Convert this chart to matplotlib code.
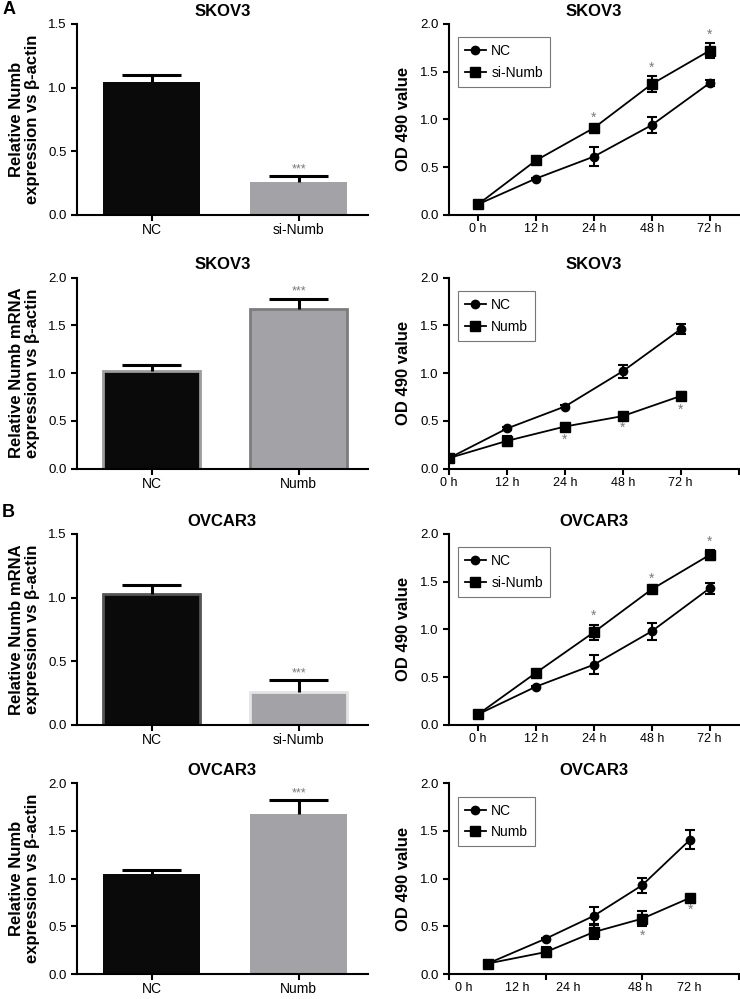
import matplotlib
matplotlib.use('Agg')
import matplotlib.pyplot as plt

plt.rcParams['font.family'] = ['Liberation Sans', 'DejaVu Sans']

# ---- bar chart data (relative Numb expression) ----
kd_groups = ['NC', 'si-Numb']
oe_groups = ['NC', 'Numb']

skov_kd_bar = [1.045, 0.257]
skov_kd_err = [0.052, 0.045]
skov_oe_bar = [1.02, 1.67]
skov_oe_err = [0.068, 0.11]
ovcar_kd_bar = [1.03, 0.26]
ovcar_kd_err = [0.065, 0.09]
ovcar_oe_bar = [1.045, 1.68]
ovcar_oe_err = [0.05, 0.14]

# ---- line chart data (OD 490) ----
time_labels = ['0 h', '12 h', '24 h', '48 h', '72 h']

skov_kd_nc = [0.11, 0.38, 0.61, 0.94, 1.38]
skov_kd_nc_err = [0.01, 0.01, 0.10, 0.08, 0.03]
skov_kd_si = [0.11, 0.57, 0.91, 1.37, 1.72]
skov_kd_si_err = [0.01, 0.03, 0.02, 0.08, 0.08]
skov_kd_sig = [2, 3, 4]

skov_oe_nc = [0.11, 0.42, 0.65, 1.02, 1.46]
skov_oe_nc_err = [0.01, 0.02, 0.02, 0.07, 0.05]
skov_oe_numb = [0.11, 0.29, 0.44, 0.55, 0.76]
skov_oe_numb_err = [0.01, 0.05, 0.04, 0.02, 0.04]
skov_oe_sig = [2, 3, 4]

ovcar_kd_nc = [0.11, 0.40, 0.63, 0.98, 1.43]
ovcar_kd_nc_err = [0.01, 0.01, 0.10, 0.09, 0.06]
ovcar_kd_si = [0.11, 0.545, 0.97, 1.42, 1.78]
ovcar_kd_si_err = [0.01, 0.02, 0.08, 0.02, 0.05]
ovcar_kd_sig = [2, 3, 4]

ovcar_oe_nc = [0.11, 0.37, 0.61, 0.93, 1.41]
ovcar_oe_nc_err = [0.01, 0.01, 0.09, 0.08, 0.10]
ovcar_oe_numb = [0.11, 0.23, 0.44, 0.58, 0.80]
ovcar_oe_numb_err = [0.01, 0.05, 0.07, 0.08, 0.02]
ovcar_oe_sig = [3, 4]

BLACK = '#0a0a0a'
GREY = '#a3a3a7'
STAR = '#7a7a7a'
YLAB = 'Relative Numb\nexpression vs β-actin'
YLAB_MRNA = 'Relative Numb mRNA\nexpression vs β-actin'
OD = 'OD 490 value'

fig = plt.figure(figsize=(7.4, 9.99), dpi=100)

rows_bottom = [0.785, 0.531, 0.2745, 0.025]
h = 0.191


def style_axes(ax):
    for s in ['top', 'right']:
        ax.spines[s].set_visible(False)
    for s in ['left', 'bottom']:
        ax.spines[s].set_linewidth(1.5)
    ax.tick_params(direction='out', length=4, width=1.5, labelsize=9.5)
    ax.xaxis.remove_overlapping_locs = False


def bar_panel(ax, groups, vals, errs, ymax, ylab, title, edges):
    style_axes(ax)
    x = list(range(len(groups)))
    colors = [BLACK, GREY]
    for i in x:
        ec, lw = edges[i]
        ax.bar(i, vals[i], width=0.66, color=colors[i], edgecolor=ec, linewidth=lw, zorder=2)
        top = vals[i] + errs[i]
        ax.vlines(i, vals[i], top, color='black', lw=2.2, zorder=3)
        ax.hlines(top, i - 0.2, i + 0.2, color='black', lw=2.2, zorder=3)
    top = vals[1] + errs[1]
    ax.text(1, top + ymax * 0.005, '***', ha='center', va='bottom', color=STAR, fontsize=9)
    ax.set_xlim(-0.51, 1.47)
    ax.set_ylim(0, ymax)
    ax.set_yticks([v * 0.5 for v in range(int(ymax / 0.5) + 1)])
    ax.yaxis.set_major_formatter(matplotlib.ticker.FormatStrFormatter('%.1f'))
    ax.set_xticks(x)
    ax.set_xticklabels(groups, fontsize=10)
    ax.tick_params(axis='x', pad=2)
    ax.set_ylabel(ylab, fontsize=12, fontweight='bold', labelpad=6, linespacing=1.1)
    ax.set_title(title, fontsize=12, fontweight='bold', pad=6)


def line_panel(ax, pos, nc, nc_err, tr, tr_err, tr_label, sig, above, title,
               xlim, ticks, label_pos):
    style_axes(ax)
    ax.errorbar(pos, nc, yerr=nc_err, fmt='none', ecolor='black', elinewidth=1.5,
                capsize=3.5, capthick=1.5, zorder=3)
    ax.errorbar(pos, tr, yerr=tr_err, fmt='none', ecolor='black', elinewidth=1.5,
                capsize=3.5, capthick=1.5, zorder=3)
    ax.plot(pos, nc, color='black', lw=1.3, marker='o', ms=6, label='NC', zorder=4)
    ax.plot(pos, tr, color='black', lw=1.3, marker='s', ms=7, label=tr_label, zorder=4)
    for i in sig:
        if above:
            ax.text(pos[i], tr[i] + tr_err[i] + 0.015, '*', ha='center', va='bottom',
                    color=STAR, fontsize=10)
        else:
            ax.text(pos[i], tr[i] - tr_err[i] - 0.03, '*', ha='center', va='top',
                    color=STAR, fontsize=10)
    ax.set_xlim(*xlim)
    ax.set_ylim(0, 2.0)
    ax.set_yticks([0, 0.5, 1.0, 1.5, 2.0])
    ax.yaxis.set_major_formatter(matplotlib.ticker.FormatStrFormatter('%.1f'))
    ax.set_xticks(ticks)
    ax.set_xticklabels([])
    ax.set_xticks(label_pos, time_labels, minor=True)
    ax.tick_params(axis='x', which='minor', length=0, labelsize=9, pad=6)
    ax.set_ylabel(OD, fontsize=12, fontweight='bold', labelpad=7)
    ax.set_title(title, fontsize=12, fontweight='bold', pad=6)
    leg = ax.legend(loc='upper left', bbox_to_anchor=(0.03, 0.93), borderaxespad=0,
                    fontsize=10, frameon=True, fancybox=False, handlelength=1.5,
                    handletextpad=0.4, labelspacing=0.55, borderpad=0.5)
    leg.get_frame().set_edgecolor('#555555')
    leg.get_frame().set_linewidth(0.8)


bl, bw = 0.104, 0.393
ll, lw_ = 0.607, 0.391

std_pos = [0, 1, 2, 3, 4]

# row 1
ax = fig.add_axes([bl, rows_bottom[0], bw, h])
bar_panel(ax, kd_groups, skov_kd_bar, skov_kd_err, 1.5, YLAB, 'SKOV3',
          [('none', 0), ('none', 0)])
ax = fig.add_axes([ll, rows_bottom[0], lw_, h])
line_panel(ax, std_pos, skov_kd_nc, skov_kd_nc_err, skov_kd_si, skov_kd_si_err, 'si-Numb',
           skov_kd_sig, True, 'SKOV3', (-0.5, 4.5), std_pos, std_pos)

# row 2
ax = fig.add_axes([bl, rows_bottom[1], bw, h])
bar_panel(ax, oe_groups, skov_oe_bar, skov_oe_err, 2.0, YLAB_MRNA, 'SKOV3',
          [('#9c9c9c', 2), ('#7c7c7e', 2)])
ax = fig.add_axes([ll, rows_bottom[1], lw_, h])
line_panel(ax, std_pos, skov_oe_nc, skov_oe_nc_err, skov_oe_numb, skov_oe_numb_err, 'Numb',
           skov_oe_sig, False, 'SKOV3', (0, 5), [0, 1, 2, 3, 4, 5], std_pos)

# row 3
ax = fig.add_axes([bl, rows_bottom[2], bw, h])
bar_panel(ax, kd_groups, ovcar_kd_bar, ovcar_kd_err, 1.5, YLAB_MRNA, 'OVCAR3',
          [('#555555', 2), ('#e4e4e6', 2)])
ax = fig.add_axes([ll, rows_bottom[2], lw_, h])
line_panel(ax, std_pos, ovcar_kd_nc, ovcar_kd_nc_err, ovcar_kd_si, ovcar_kd_si_err, 'si-Numb',
           ovcar_kd_sig, True, 'OVCAR3', (-0.5, 4.5), std_pos, std_pos)

# row 4
ax = fig.add_axes([bl, rows_bottom[3], bw, h])
bar_panel(ax, oe_groups, ovcar_oe_bar, ovcar_oe_err, 2.0, YLAB, 'OVCAR3',
          [('none', 0), ('none', 0)])
ax = fig.add_axes([ll, rows_bottom[3], lw_, h])
line_panel(ax, [0.8, 2, 3, 4, 5], ovcar_oe_nc, ovcar_oe_nc_err, ovcar_oe_numb,
           ovcar_oe_numb_err, 'Numb', ovcar_oe_sig, False, 'OVCAR3', (0, 6),
           [0, 2, 4, 6], [0.3, 1.42, 2.47, 3.96, 4.97])

fig.text(0.003, 0.990, 'A', fontsize=13, fontweight='bold', va='center')
fig.text(0.003, 0.4865, 'B', fontsize=13, fontweight='bold', va='center')

fig.savefig('out.png', dpi=100)
